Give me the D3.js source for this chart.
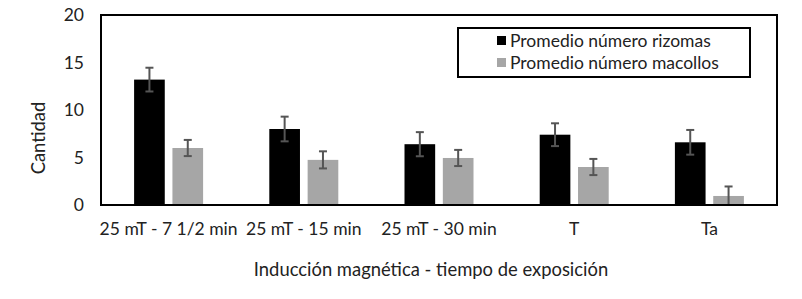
<!DOCTYPE html>
<html>
<head>
<meta charset="utf-8">
<script src="https://cdn.jsdelivr.net/npm/d3@7"></script>
<style>
  body { margin: 0; background: white; }
  text { font-family: Lato, "Open Sans", sans-serif; }
</style>
</head>
<body>
<div id="chart"></div>
<script>
var categories = ["25 mT - 7 1/2 min", "25 mT - 15 min", "25 mT - 30 min", "T", "Ta"]
var series = ["Promedio número rizomas", "Promedio número macollos"]
var rizomas = [13.2, 8.0, 6.4, 7.4, 6.6]
var rizomasErr = [1.25, 1.3, 1.27, 1.2, 1.3]
var macollos = [6.0, 4.75, 4.95, 4.0, 0.95]
var macollosErr = [0.85, 0.9, 0.85, 0.85, 1.0]
var yTicks = [0, 5, 10, 15, 20]

var colors = ["#000000", "#a6a6a6"]

var svg = d3.select("#chart").append("svg")
  .attr("width", 802)
  .attr("height", 299)

var pLeft = 101, pRight = 777, pTop = 15, pBottom = 205

var x = d3.scaleBand()
  .domain(categories)
  .range([pLeft, pRight])

var xs = d3.scaleBand()
  .domain(series)
  .range([0, 69])
  .paddingInner(0.2)

var y = d3.scaleLinear()
  .domain([0, 20])
  .range([pBottom, pTop])

var data = []
categories.forEach(function (c, i) {
  data.push({cat: c, s: series[0], v: rizomas[i], e: rizomasErr[i]})
  data.push({cat: c, s: series[1], v: macollos[i], e: macollosErr[i]})
})

var off = (x.bandwidth() - 69) / 2
var cx = d => x(d.cat) + off + xs(d.s) + xs.bandwidth() / 2

svg.selectAll("bars")
  .data(data)
  .enter()
  .append("rect")
  .attr("x", d => x(d.cat) + off + xs(d.s))
  .attr("width", xs.bandwidth())
  .attr("y", d => y(d.v))
  .attr("height", d => y(0) - y(d.v))
  .attr("fill", d => colors[series.indexOf(d.s)])

// error bars
var eb = svg.selectAll("errs")
  .data(data)
  .enter()
  .append("g")
  .attr("stroke", "#555")
  .attr("stroke-width", 2)

eb.append("line")
  .attr("x1", cx)
  .attr("x2", cx)
  .attr("y1", d => y(d.v + d.e))
  .attr("y2", d => y(Math.max(0, d.v - d.e)))
eb.append("line")
  .attr("x1", d => cx(d) - 4)
  .attr("x2", d => cx(d) + 4)
  .attr("y1", d => y(d.v + d.e))
  .attr("y2", d => y(d.v + d.e))
eb.append("line")
  .attr("x1", d => cx(d) - 4)
  .attr("x2", d => cx(d) + 4)
  .attr("y1", d => y(Math.max(0, d.v - d.e)))
  .attr("y2", d => y(Math.max(0, d.v - d.e)))

// frame
svg.append("rect")
  .attr("x", pLeft)
  .attr("y", pTop)
  .attr("width", pRight - pLeft)
  .attr("height", pBottom - pTop)
  .attr("fill", "none")
  .attr("stroke", "black")
  .attr("stroke-width", 2)

// y ticks
svg.selectAll("yt")
  .data(yTicks)
  .enter()
  .append("text")
  .text(d => d)
  .attr("x", 84)
  .attr("y", d => y(d) + 6)
  .attr("text-anchor", "end")
  .attr("font-size", 17.5)
  .attr("fill", "#222")

// x labels
svg.selectAll("xt")
  .data(categories)
  .enter()
  .append("text")
  .text(d => d)
  .attr("x", d => x(d) + x.bandwidth() / 2)
  .attr("y", 235)
  .attr("text-anchor", "middle")
  .attr("font-size", 17.5)
  .attr("fill", "#222")

svg.append("text")
  .text("Inducción magnética - tiempo de exposición")
  .attr("x", 431)
  .attr("y", 276)
  .attr("text-anchor", "middle")
  .attr("font-size", 18.4)
  .attr("fill", "#222")

svg.append("text")
  .text("Cantidad")
  .attr("transform", "translate(45,138) rotate(-90)")
  .attr("text-anchor", "middle")
  .attr("font-size", 18.4)
  .attr("fill", "#222")

// legend
svg.append("rect")
  .attr("x", 458)
  .attr("y", 28)
  .attr("width", 292)
  .attr("height", 49)
  .attr("fill", "white")
  .attr("stroke", "black")
  .attr("stroke-width", 2)

series.forEach(function (s, i) {
  svg.append("rect")
    .attr("x", 497)
    .attr("y", 36 + i * 22)
    .attr("width", 9)
    .attr("height", 9)
    .attr("fill", colors[i])
  svg.append("text")
    .text(s)
    .attr("x", 510)
    .attr("y", 47 + i * 22)
    .attr("font-size", 17.5)
    .attr("fill", "#222")
})
</script>
</body>
</html>
